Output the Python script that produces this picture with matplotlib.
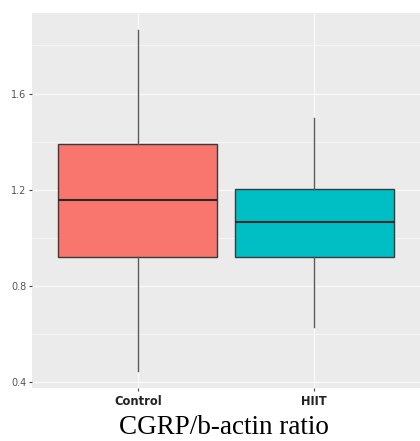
import matplotlib
matplotlib.use('Agg')
import matplotlib.pyplot as plt
from matplotlib.ticker import MultipleLocator

# ── 데이터 ─────────────────────────────────────────
groups = ['Control', 'HIIT']
whisker_low = [0.446, 0.628]
q1 = [0.918, 0.922]
median = [1.158, 1.067]
q3 = [1.391, 1.204]
whisker_high = [1.864, 1.499]
colors = ['#F8766D', '#00BFC4']
y_ticks = [0.4, 0.8, 1.2, 1.6]

stats = []
for i, g in enumerate(groups):
    stats.append(dict(label=g, whislo=whisker_low[i], q1=q1[i], med=median[i],
                      q3=q3[i], whishi=whisker_high[i], fliers=[]))

fig = plt.figure(figsize=(4.2, 4.41), dpi=100)
fig.patch.set_facecolor('white')
ax = fig.add_axes([32 / 420, 1 - 388 / 441, 388 / 420, 375 / 441])
ax.set_facecolor('#EBEBEB')

bp = ax.bxp(stats, positions=[1, 2], widths=0.9, patch_artist=True,
            showcaps=False, showfliers=False,
            boxprops=dict(edgecolor='#3A3A3A', linewidth=1.0),
            whiskerprops=dict(color='#5A5A5A', linewidth=1.0),
            medianprops=dict(color='#2A2A2A', linewidth=1.5))
for patch, c in zip(bp['boxes'], colors):
    patch.set_facecolor(c)

# 축 범위 (ggplot 기본 확장)
lo, hi = min(whisker_low), max(whisker_high)
pad = (hi - lo) * 0.05
ax.set_ylim(lo - pad, hi + pad)
ax.set_xlim(0.4, 2.6)

ax.set_yticks(y_ticks)
ax.yaxis.set_minor_locator(MultipleLocator(0.2))
ax.grid(which='major', color='#FAFAFA', linewidth=1.0)
ax.grid(which='minor', axis='y', color='#F7F7F7', linewidth=0.6)
ax.set_axisbelow(True)
for s in ax.spines.values():
    s.set_visible(False)

ax.tick_params(axis='y', which='major', length=2.5, color='#444444',
               labelsize=7, labelcolor='#555555', pad=1.5)
ax.tick_params(axis='x', length=2.5, color='#444444', labelsize=8.3,
               labelcolor='#222222', pad=2.5)
ax.tick_params(which='minor', length=0)
ax.set_xticks([1, 2])
ax.set_xticklabels(groups, fontweight='bold')

fig.text(0.533, 1 - 428 / 441, 'CGRP/b-actin ratio', ha='center', va='center',
         fontsize=19.5, family='Liberation Serif', color='black')

plt.savefig('out.png', dpi=100, facecolor='white')
plt.close()
